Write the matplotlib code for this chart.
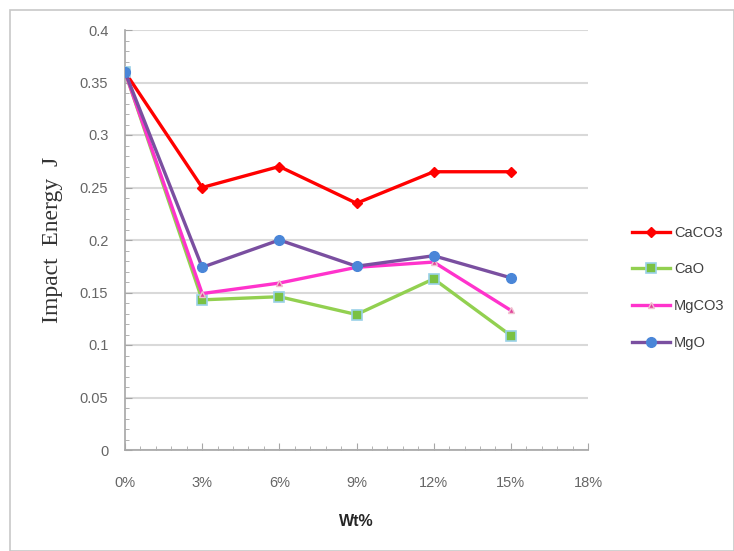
import matplotlib
matplotlib.use("Agg")
import matplotlib.pyplot as plt
from matplotlib.ticker import MultipleLocator, PercentFormatter
from matplotlib.patches import Rectangle

wt = [0, 3, 6, 9, 12, 15]
caco3 = [0.36, 0.25, 0.27, 0.235, 0.265, 0.265]
cao = [0.36, 0.143, 0.146, 0.129, 0.163, 0.109]
mgco3 = [0.36, 0.149, 0.159, 0.174, 0.179, 0.133]
mgo = [0.36, 0.174, 0.2, 0.175, 0.185, 0.164]
series_names = ["CaCO3", "CaO", "MgCO3", "MgO"]

fig = plt.figure(figsize=(7.34, 5.51), dpi=100)
fig.patch.set_facecolor("white")
fig.add_artist(Rectangle((10/734, 0.0), 1 - 10/734, 1 - 10/551, transform=fig.transFigure,
                         fill=False, edgecolor="#c8c8c8", linewidth=1.2))

ax = fig.add_axes([125/734, 1 - 450/551, (588 - 125)/734, (450 - 30)/551])

tick_font = "Liberation Sans"
lw = 2.4
ax.plot(wt, caco3, color="#ff0000", lw=lw, marker="D", ms=5, mfc="#ff0000", mec="#ff0000",
        label=series_names[0], zorder=3)
ax.plot(wt, cao, color="#92d050", lw=lw, marker="s", ms=7, mfc="#7ac143", mec="#9ad1e8",
        mew=1.2, label=series_names[1], zorder=3)
ax.plot(wt, mgco3, color="#ff33cc", lw=lw, marker="^", ms=5, mfc="#e0409a", mec="#f0c0d0",
        label=series_names[2], zorder=3)
ax.plot(wt, mgo, color="#7a4fa0", lw=lw, marker="o", ms=7, mfc="#4a86d8", mec="#4a86d8",
        label=series_names[3], zorder=4)

ax.set_xlim(0, 18)
ax.set_ylim(0, 0.4)
ax.xaxis.set_major_locator(MultipleLocator(3))
ax.xaxis.set_minor_locator(MultipleLocator(0.6))
ax.yaxis.set_minor_locator(MultipleLocator(0.01))
ax.xaxis.set_major_formatter(PercentFormatter(100, decimals=0))
ax.set_yticks([0, 0.05, 0.1, 0.15, 0.2, 0.25, 0.3, 0.35, 0.4])
ax.set_yticklabels(["0", "0.05", "0.1", "0.15", "0.2", "0.25", "0.3", "0.35", "0.4"])

ax.grid(axis="y", which="major", color="#d9d9d9", lw=1.5, zorder=0)
ax.set_axisbelow(True)
for s in ["top", "right"]:
    ax.spines[s].set_visible(False)
for s in ["left", "bottom"]:
    ax.spines[s].set_color("#a6a6a6")
    ax.spines[s].set_linewidth(1.2)

ax.tick_params(axis="both", which="major", direction="in", length=5, color="#a6a6a6",
               labelsize=10.5, labelcolor="#666666")
ax.tick_params(axis="both", which="minor", direction="in", length=3, color="#a6a6a6")
ax.tick_params(axis="x", pad=19)
ax.tick_params(axis="y", pad=12)
for lbl in ax.get_xticklabels() + ax.get_yticklabels():
    lbl.set_fontfamily(tick_font)

ax.set_xlabel("Wt%", fontsize=11.5, fontweight="bold", family=tick_font, color="#262626", labelpad=17)
ax.set_ylabel("Impact  Energy  J", fontsize=17, family="Liberation Serif", color="#333333", labelpad=12)

leg = fig.legend(loc="upper left", bbox_to_anchor=(626/734, 1 - 220/551), frameon=False,
                 prop={"family": tick_font, "size": 10.5}, labelspacing=1.55,
                 handlelength=2.6, handletextpad=0.3, borderaxespad=0)
for t in leg.get_texts():
    t.set_color("#404040")

fig.savefig("out.png", dpi=100, facecolor="white")
